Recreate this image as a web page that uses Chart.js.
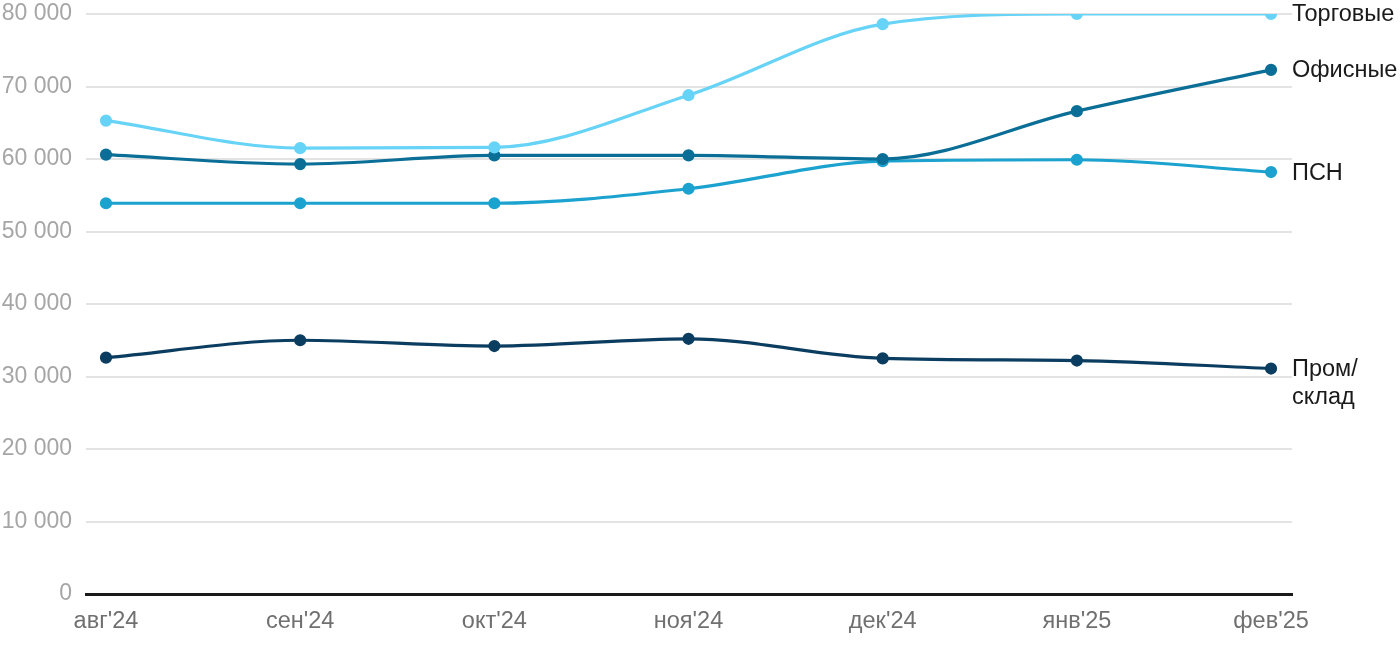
<!DOCTYPE html>
<html>
<head>
<meta charset="utf-8">
<script src="https://cdn.jsdelivr.net/npm/chart.js@4"></script>
<style>
  html, body { margin: 0; padding: 0; background: #fff; }
  #wrap { width: 1400px; height: 650px; }
</style>
</head>
<body>
<div id="wrap"><canvas id="myChart"></canvas></div>
<script>
const months = ["авг'24", "сен'24", "окт'24", "ноя'24", "дек'24", "янв'25", "фев'25"];

const torgovye = [65300, 61500, 61600, 68800, 78600, 80000, 80000];
const ofisnye = [60600, 59300, 60500, 60500, 60000, 66600, 72300];
const psn = [53900, 53900, 53900, 55900, 59700, 59900, 58200];
const promSklad = [32600, 35000, 34200, 35200, 32500, 32200, 31100];

const seriesNames = ["Торговые", "Офисные", "ПСН", ["Пром/", "склад"]];
const seriesColors = ["#66d3f7", "#0a6e96", "#1ba2cf", "#0b3d60"];

const yTicks = [0, 10000, 20000, 30000, 40000, 50000, 60000, 70000, 80000];

function toPoints(arr) {
  return arr.map((v, i) => ({ x: i, y: v }));
}

const fontFamily = "'Liberation Sans', Arial, sans-serif";

// подписи серий справа от последней точки
const endLabels = {
  id: "endLabels",
  afterDatasetsDraw(chart) {
    const ctx = chart.ctx;
    ctx.save();
    ctx.font = "23.5px " + fontFamily;
    ctx.fillStyle = "#1a1a1a";
    ctx.textAlign = "left";
    ctx.textBaseline = "middle";
    chart.data.datasets.forEach((ds, i) => {
      const meta = chart.getDatasetMeta(i);
      const last = meta.data[meta.data.length - 1];
      const lines = Array.isArray(ds.label) ? ds.label : [ds.label];
      lines.forEach((t, j) => {
        ctx.fillText(t, chart.chartArea.right, last.y + 1 + j * 28);
      });
    });
    ctx.restore();
  },
};

const datasets = [torgovye, ofisnye, psn, promSklad].map((arr, i) => ({
  label: seriesNames[i],
  data: toPoints(arr),
  borderColor: seriesColors[i],
  backgroundColor: seriesColors[i],
  borderWidth: 3.2,
  pointRadius: 4.5,
  pointHoverRadius: 4.5,
  cubicInterpolationMode: "monotone",
  fill: false,
}));

// убрать автоматические отступы под крайние подписи осей
function noPad(scale) {
  scale.paddingLeft = 0;
  scale.paddingRight = 0;
  scale.paddingTop = 0;
  scale.paddingBottom = 0;
}

new Chart(document.getElementById("myChart").getContext("2d"), {
  type: "line",
  data: { datasets: datasets },
  plugins: [endLabels],
  options: {
    responsive: true,
    maintainAspectRatio: false,
    animation: false,
    layout: { padding: { top: 14, right: 108, left: 2, bottom: 16 } },
    plugins: {
      legend: { display: false },
      tooltip: { enabled: false },
    },
    scales: {
      x: {
        type: "linear",
        min: -0.103,
        max: 6.108,
        afterBuildTicks: (scale) => {
          scale.ticks = months.map((_, i) => ({ value: i }));
        },
        afterFit: (scale) => {
          noPad(scale);
          scale.height = 40;
        },
        grid: { display: false, drawTicks: false },
        border: { display: true, color: "#1a1a1a", width: 3 },
        ticks: {
          autoSkip: false,
          maxRotation: 0,
          padding: 13,
          color: "#707070",
          font: { family: fontFamily, size: 23.5 },
          callback: (v) => months[v],
        },
      },
      y: {
        min: 0,
        max: 80000,
        afterBuildTicks: (scale) => {
          scale.ticks = yTicks.map((v) => ({ value: v }));
        },
        afterFit: (scale) => {
          noPad(scale);
          scale.width = 84;
        },
        grid: { color: "#e3e3e3", lineWidth: 2, drawTicks: false },
        border: { display: false },
        ticks: {
          padding: 14,
          color: "#a6a6a6",
          font: { family: fontFamily, size: 23 },
          callback: (v) => v.toLocaleString("ru-RU").replace(/\s/g, " "),
        },
      },
    },
  },
});
</script>
</body>
</html>
